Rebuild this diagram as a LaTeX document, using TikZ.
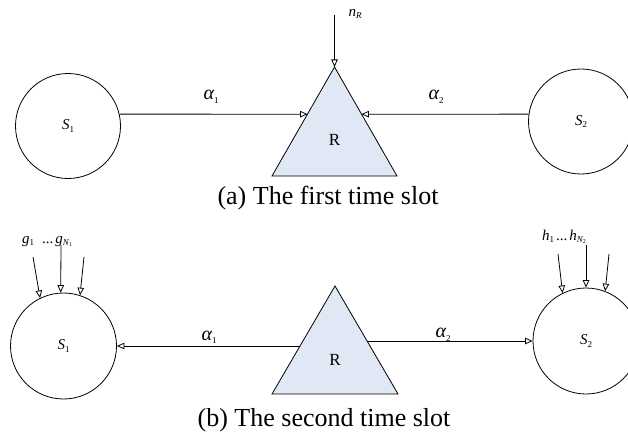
\documentclass[tikz,border=0pt]{standalone}
\usepackage{fontspec}
\setmainfont{Liberation Serif}
\usetikzlibrary{arrows.meta}
\definecolor{trifill}{RGB}{224,232,245}
\newcommand{\subl}[2]{{\itshape #1}\raisebox{-0.35ex}{\fontsize{9}{9}\selectfont #2}}
\newcommand{\alsub}[1]{{\fontsize{20}{20}\selectfont\itshape α}\raisebox{-0.5ex}{\fontsize{9}{9}\selectfont #1}}
\newcommand{\subsubl}[3]{{\itshape #1}\raisebox{-0.35ex}{\fontsize{9}{9}\selectfont\itshape #2\raisebox{-0.3ex}{\fontsize{6}{6}\selectfont\upshape #3}}}
\begin{document}
\begin{tikzpicture}[x=1pt,y=-1pt,
  stn/.style={circle,draw,line width=0.8pt,inner sep=0pt,minimum size=105pt,font=\fontsize{15}{15}\selectfont},
  tri/.style={draw,line width=0.8pt,fill=trifill,line join=miter},
  arr/.style={line width=0.8pt,-{Triangle[open,length=7.5pt,width=6.5pt]}},
  lbl/.style={inner sep=0pt,font=\fontsize{15}{15}\selectfont},
  rlbl/.style={inner sep=0pt,font=\fontsize{17}{17}\selectfont},
  captxt/.style={inner sep=0pt,font=\fontsize{26}{26}\selectfont}]
\useasboundingbox (0,0) rectangle (628,433);
% ---------- (a) first time slot ----------
\node[stn] (S1) at (68,126) {\subl{S}{1}};
\node[stn] (S2) at (581,121.5) {\subl{S}{2}};
\coordinate (Ta) at (334.5,67);
\coordinate (Tl) at (272,176);
\coordinate (Tr) at (397,176);
\draw[tri] (Ta) -- (Tl) -- (Tr) -- cycle;
\node[rlbl] (R1) at (334.5,140) {R};
\coordinate (Ein1) at (307.6,114.2);
\coordinate (Ein2) at (361.4,114.2);
\draw[arr] (S1.13) -- (Ein1);
\draw[arr] (S2.172) -- (Ein2);
\coordinate (nTop) at (334.5,15);
\draw[arr] (nTop) -- (Ta);
\node[lbl] (nR) at (355,14) {\subl{n}{\itshape R}};
\node[lbl] (a1) at (211,97) {\alsub{1}};
\node[lbl] (a2) at (436,97) {\alsub{2}};
\node[captxt,anchor=base] (capA) at (328,204) {(a) The first time slot};
% ---------- (b) second time slot ----------
\node[stn,minimum size=106pt] (S1b) at (63.5,346) {\subl{S}{1}};
\node[stn,minimum size=106pt] (S2b) at (586,341) {\subl{S}{2}};
\coordinate (Ba) at (335,286);
\coordinate (Bl) at (272,394);
\coordinate (Br) at (398,394);
\draw[tri] (Ba) -- (Bl) -- (Br) -- cycle;
\node[rlbl] (R2) at (335,360) {R};
\coordinate (Eo1) at (300,346);
\coordinate (Eo2) at (367.1,341);
\draw[arr] (Eo1) -- (S1b.east);
\draw[arr] (Eo2) -- (S2b.west);
\node[lbl] (b1) at (209,337) {\alsub{1}};
\node[lbl] (b2) at (443,335) {\alsub{2}};
\node[lbl,anchor=base west] (glab) at (22,243) {\subl{g}{1}\hspace{8pt}...\hspace{2pt}\subsubl{g}{N}{1}};
\node[lbl,anchor=base west] (hlab) at (542,240) {\subl{h}{1}\hspace{2pt}...\hspace{2pt}\subsubl{h}{N}{2}};
\coordinate (g1s) at (33,257);
\coordinate (g2s) at (61,245);
\coordinate (g3s) at (84,257);
\draw[arr] (g1s) -- (S1b.116);
\draw[arr] (g2s) -- (S1b.93);
\draw[arr] (g3s) -- (S1b.72);
\coordinate (h1s) at (558,254);
\coordinate (h2s) at (586,245);
\coordinate (h3s) at (609,254);
\draw[arr] (h1s) -- (S2b.116);
\draw[arr] (h2s) -- (S2b.90);
\draw[arr] (h3s) -- (S2b.69);
\node[captxt,anchor=base] (capB) at (324,426) {(b) The second time slot};
\end{tikzpicture}
\end{document}
